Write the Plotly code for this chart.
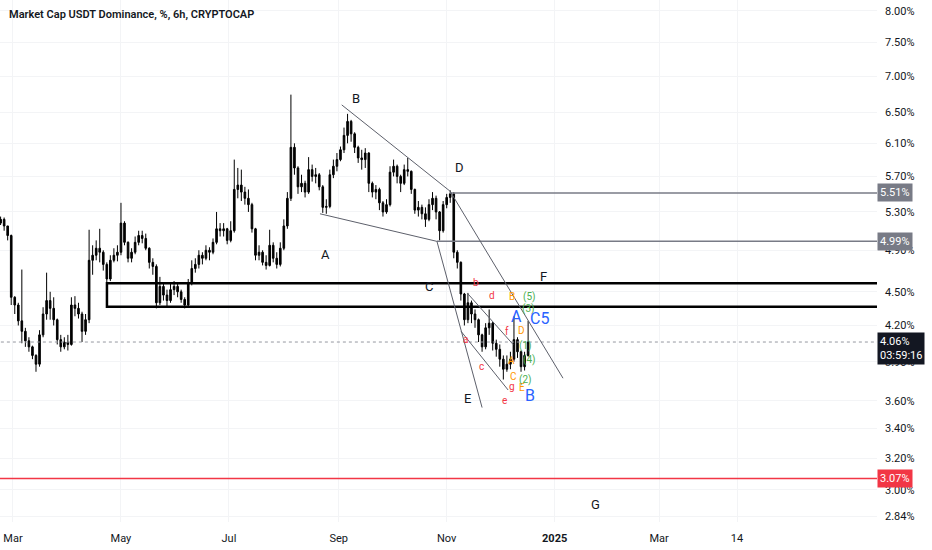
import numpy as np
import pandas as pd
import plotly.graph_objects as go

# USDT dominance, read off the 6h chart and grouped into 2-day candles
# (23 Feb 2024 .. 17 Dec 2024). open of each candle = previous close
first_open = 5.18
close = [5.22, 5.15, 5.05, 4.45, 4.38, 4.24, 4.15, 4.07, 4.02, 3.95,
         3.88, 4.12, 4.30, 4.42, 4.35, 4.25, 4.08, 4.02, 4.06, 4.04,
         4.38, 4.35, 4.30, 4.15, 4.25, 4.80, 4.85, 4.92, 4.88, 4.76,
         4.62, 4.80, 4.85, 4.88, 5.18, 4.98, 4.82, 4.88, 4.98, 5.05,
         5.02, 4.92, 4.78, 4.74, 4.40, 4.55, 4.47, 4.42, 4.52, 4.55,
         4.50, 4.43, 4.38, 4.58, 4.72, 4.76, 4.85, 4.82, 4.90, 4.88,
         4.98, 5.12, 5.10, 5.12, 5.00, 5.10, 5.55, 5.60, 5.52, 5.45,
         5.38, 5.12, 4.85, 4.88, 4.78, 4.75, 4.95, 4.82, 4.76, 4.92,
         5.15, 5.45, 6.05, 5.80, 5.58, 5.62, 5.52, 5.78, 5.70, 5.72,
         5.58, 5.35, 5.36, 5.72, 5.82, 5.90, 6.02, 6.20, 6.38, 6.22,
         6.05, 5.92, 5.90, 5.98, 5.62, 5.52, 5.55, 5.40, 5.30, 5.38,
         5.75, 5.82, 5.70, 5.62, 5.78, 5.76, 5.55, 5.32, 5.35, 5.28,
         5.22, 5.38, 5.45, 5.30, 5.10, 5.38, 5.46, 5.50, 4.88, 4.78,
         4.48, 4.25, 4.40, 4.30, 4.25, 4.12, 4.02, 4.18, 4.22, 4.05,
         4.00, 3.92, 3.84, 3.88, 3.92, 4.08, 3.98, 3.86, 3.95, 4.06]
high = [5.25, 5.24, 5.15, 5.06, 4.46, 4.40, 4.71, 4.18, 4.10, 4.03,
        3.96, 4.16, 4.36, 4.68, 4.50, 4.45, 4.26, 4.12, 4.10, 4.12,
        4.45, 4.46, 4.40, 4.32, 4.30, 5.11, 4.95, 5.00, 5.12, 4.90,
        4.78, 4.85, 4.92, 4.95, 5.40, 5.20, 4.99, 4.92, 5.04, 5.10,
        5.10, 5.07, 4.93, 4.82, 4.76, 4.64, 4.58, 4.52, 4.58, 4.60,
        4.58, 4.52, 4.45, 4.62, 4.80, 4.82, 4.90, 4.88, 4.95, 4.93,
        5.02, 5.30, 5.18, 5.18, 5.13, 5.20, 5.90, 5.80, 5.78, 5.58,
        5.55, 5.40, 5.13, 4.95, 4.90, 4.85, 5.11, 4.98, 4.88, 4.98,
        5.22, 5.52, 6.74, 6.10, 5.82, 5.72, 5.65, 5.93, 5.84, 5.80,
        5.74, 5.60, 5.44, 5.78, 5.90, 5.98, 6.06, 6.30, 6.48, 6.40,
        6.24, 6.07, 6.02, 6.04, 5.99, 5.64, 5.60, 5.57, 5.42, 5.44,
        5.82, 5.90, 5.84, 5.72, 5.84, 5.92, 5.77, 5.56, 5.42, 5.38,
        5.35, 5.44, 5.52, 5.48, 5.31, 5.42, 5.50, 5.54, 5.52, 4.90,
        4.79, 4.49, 4.49, 4.42, 4.34, 4.26, 4.13, 4.22, 4.34, 4.23,
        4.08, 4.04, 3.95, 3.95, 3.98, 4.28, 4.10, 3.99, 3.98, 4.24]
low = [5.16, 5.10, 5.00, 4.38, 4.30, 4.20, 4.05, 4.02, 3.98, 3.92,
       3.82, 3.86, 4.10, 4.25, 4.25, 4.20, 4.04, 3.98, 4.00, 3.99,
       4.03, 4.28, 4.26, 4.06, 4.12, 4.22, 4.66, 4.80, 4.78, 4.70,
       4.58, 4.60, 4.78, 4.79, 4.85, 4.95, 4.78, 4.78, 4.86, 4.95,
       4.97, 4.90, 4.72, 4.66, 4.35, 4.38, 4.42, 4.36, 4.40, 4.47,
       4.45, 4.40, 4.35, 4.37, 4.56, 4.68, 4.72, 4.76, 4.80, 4.80,
       4.86, 4.96, 5.04, 5.04, 4.96, 4.98, 5.08, 5.45, 5.42, 5.38,
       5.30, 5.08, 4.80, 4.80, 4.75, 4.71, 4.74, 4.78, 4.72, 4.74,
       4.90, 5.12, 5.42, 5.72, 5.50, 5.52, 5.46, 5.50, 5.64, 5.62,
       5.54, 5.29, 5.28, 5.34, 5.68, 5.76, 5.88, 5.98, 6.10, 6.12,
       5.98, 5.86, 5.78, 5.80, 5.52, 5.46, 5.44, 5.32, 5.25, 5.28,
       5.36, 5.70, 5.62, 5.52, 5.60, 5.70, 5.50, 5.28, 5.25, 5.22,
       5.14, 5.20, 5.32, 5.22, 5.00, 5.08, 5.34, 5.40, 4.82, 4.72,
       4.42, 4.20, 4.22, 4.22, 4.18, 4.06, 3.98, 4.00, 4.12, 3.99,
       3.94, 3.86, 3.76, 3.82, 3.84, 3.90, 3.93, 3.82, 3.83, 3.94]

dates = pd.date_range("2024-02-23", periods=len(close), freq="2D")
opens = [first_open] + close[:-1]

# drawings: (start date, start value, end date, end value)
trend_lines = [
    ("2024-09-02 17:00", 6.60, "2024-11-02 22:00", 5.53),
    ("2024-11-02 22:00", 5.53, "2025-01-05 17:00", 3.77),
    ("2024-08-21 10:00", 5.28, "2024-10-26 12:00", 4.99),
    ("2024-10-26 12:00", 4.99, "2024-11-21 00:00", 3.55),
    ("2024-11-09 03:00", 4.15, "2024-12-05 17:00", 3.68),
    ("2024-11-13 02:00", 4.48, "2024-12-08 12:00", 4.04),
]
grey_levels = [("2024-11-02 22:00", 5.51), ("2024-10-26 12:00", 4.99)]
box_start, box_top, box_bottom = "2024-04-23 02:00", 4.58, 4.364
red_level = 3.07
last_price = 4.06
far_right = "2025-08-01"

black_labels = [("B", "2024-09-10 19:00", 6.69), ("D", "2024-11-08", 5.80),
                ("A", "2024-08-24 19:00", 4.86), ("C", "2024-10-22", 4.55),
                ("F", "2024-12-25 10:00", 4.64), ("E", "2024-11-12 22:00", 3.62),
                ("G", "2025-01-23 19:00", 2.91)]
red_labels = [("b", "2024-11-17 14:00", 4.59), ("d", "2024-11-26 14:00", 4.47),
              ("a", "2024-11-11 10:00", 4.08), ("f", "2024-12-04 22:00", 4.15),
              ("c", "2024-11-20 19:00", 3.86), ("g", "2024-12-07 22:00", 3.71),
              ("e", "2024-12-03 10:00", 3.60)]
orange_labels = [("B", "2024-12-07 22:00", 4.46), ("D", "2024-12-13 10:00", 4.16),
                 ("A", "2024-12-07 10:00", 3.91), ("C", "2024-12-09", 3.78),
                 ("E", "2024-12-13 14:00", 3.70)]
green_labels = [("(5)", "2024-12-17 12:00", 4.45), ("(3)", "2024-12-17", 4.34),
                ("(1)", "2024-12-15 19:00", 4.03), ("(4)", "2024-12-17 12:00", 3.91),
                ("(2)", "2024-12-15 07:00", 3.76)]
blue_labels = [("A", "2024-12-10 17:00", 4.28), ("C5", "2024-12-23 17:00", 4.26),
               ("B", "2024-12-18 02:00", 3.64)]

ytick_vals = [2.84, 3.00, 3.20, 3.40, 3.60, 3.90, 4.20, 4.50, 4.90,
              5.30, 5.70, 6.10, 6.50, 7.00, 7.50, 8.00]
xtick_vals = ["2024-03-01", "2024-05-01", "2024-07-01", "2024-09-01",
              "2024-11-01", "2025-01-01", "2025-03-01", "2025-04-14"]
xtick_text = ["Mar", "May", "Jul", "Sep", "Nov", "<b>2025</b>", "Mar", "14"]

FONT = "Roboto"
fig = go.Figure()

fig.add_trace(go.Candlestick(
    x=dates, open=opens, high=high, low=low, close=close,
    increasing=dict(line=dict(color="#000000", width=1), fillcolor="#000000"),
    decreasing=dict(line=dict(color="#000000", width=1), fillcolor="#000000"),
    whiskerwidth=0, hoverinfo="skip"))

# level lines
fig.add_trace(go.Scatter(x=[dates[0] - pd.Timedelta(days=10), far_right],
                         y=[last_price, last_price], mode="lines",
                         line=dict(color="#9598a1", width=1, dash="dot"),
                         hoverinfo="skip"))
fig.add_trace(go.Scatter(x=[dates[0] - pd.Timedelta(days=10), far_right],
                         y=[red_level, red_level], mode="lines",
                         line=dict(color="#f23645", width=1.5), hoverinfo="skip"))
for start, val in grey_levels:
    fig.add_trace(go.Scatter(x=[start, far_right], y=[val, val], mode="lines",
                             line=dict(color="#787b86", width=1.5), hoverinfo="skip"))

fig.add_trace(go.Scatter(x=[far_right, box_start, box_start, far_right],
                         y=[box_top, box_top, box_bottom, box_bottom], mode="lines",
                         line=dict(color="#000000", width=2.5), hoverinfo="skip"))

for x0, y0, x1, y1 in trend_lines:
    fig.add_trace(go.Scatter(x=[x0, x1], y=[y0, y1], mode="lines",
                             line=dict(color="#5d606b", width=1), hoverinfo="skip"))

plot_w, plot_h = 877, 522
annotations = [dict(text="Market Cap USDT Dominance, %, 6h, CRYPTOCAP",
                    xref="paper", yref="paper", x=7 / plot_w, y=1 - 14 / plot_h,
                    xanchor="left", yanchor="middle", showarrow=False,
                    font=dict(family=FONT, size=11, color="#131722", weight=600))]

for group, color, size in [(black_labels, "#131722", 13), (red_labels, "#f23645", 10),
                           (orange_labels, "#ff9800", 10), (green_labels, "#4caf50", 10),
                           (blue_labels, "#2962ff", 16)]:
    for txt, d, v in group:
        annotations.append(dict(text=txt, x=d, y=np.log10(v), xref="x", yref="y",
                                showarrow=False, xanchor="center", yanchor="middle",
                                font=dict(family=FONT, size=size, color=color)))

# price tags on the right axis
for val, bg, txt in [(5.51, "#787b86", "5.51%"), (4.99, "#787b86", "4.99%"),
                     (red_level, "#f23645", "3.07%"),
                     (last_price, "#131722", "4.06%<br>03:59:16")]:
    annotations.append(dict(text=txt, x=1, y=np.log10(val), xref="paper", yref="y",
                            xanchor="left", yanchor="middle", showarrow=False,
                            align="left", bgcolor=bg, borderpad=2,
                            yshift=-6 if "<br>" in txt else 0,
                            font=dict(family=FONT, size=11, color="white")))

fig.update_layout(
    width=932, height=550,
    margin=dict(l=0, r=932 - plot_w, t=0, b=550 - plot_h),
    paper_bgcolor="white", plot_bgcolor="white",
    showlegend=False, boxgap=0.35,
    annotations=annotations,
    xaxis=dict(type="date", range=["2024-02-22 16:00", "2025-07-02 02:00"],
               tickvals=xtick_vals, ticktext=xtick_text,
               showgrid=True, gridcolor="#f3f4f6", zeroline=False, showline=False,
               rangeslider=dict(visible=False), ticks="", ticklabelstandoff=8,
               tickfont=dict(family=FONT, size=11, color="#131722")),
    yaxis=dict(type="log", side="right",
               range=[np.log10(2.808), np.log10(8.182)],
               tickvals=ytick_vals, ticktext=[f"{v:.2f}%" for v in ytick_vals],
               showgrid=True, gridcolor="#f3f4f6", zeroline=False, showline=False,
               ticks="", ticklabelstandoff=7,
               tickfont=dict(family=FONT, size=11, color="#131722")),
)

# drop the browser's default 8px body margin so the chart fills the window
fig.write_html("out.html", config={"displayModeBar": False},
               post_script="document.body.style.margin = '0';")
